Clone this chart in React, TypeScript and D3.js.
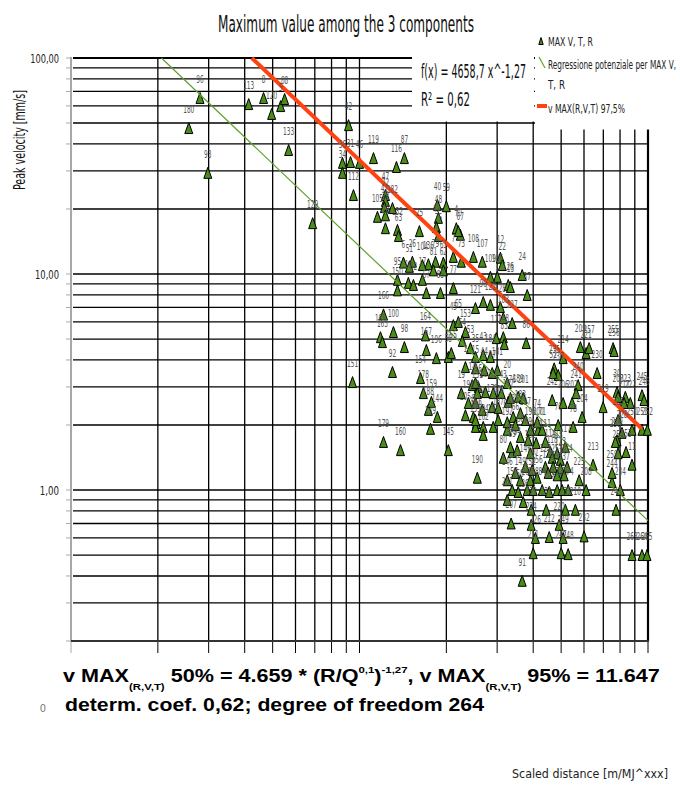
import React from 'react';
import * as d3 from 'd3';

// station id, scaled distance, peak velocity (max of V, T, R)
const pointIds = [
  '96', '180', '93', '113', '8', '120', '5', '88', '133', '129',
  '42', '36', '34', '31', '46', '112', '119', '116', '87', '47', '72', '41', '182', '38', '105', '132', '29', '63',
  '25', '40', '59', '48', '49', '4', '67', '70', '75', '108', '7', '73', '61', '79', '136', '104', '26', '6', '51',
  '81', '62', '95', '10', '82', '17', '57', '85', '77', '150',
  '107', '12', '22', '106', '109', '24', '126', '13', '37', '121', '90', '122', '128', '103', '227', '127', '148', '83', '86',
  '166', '165', '163', '100', '98', '92', '151', '164', '167', '196', '58', '155', '154', '178', '188', '159', '144', '139',
  '179', '160', '145', '19', '45', '65', '153', '64', '53', '1', '15', '14', '18', '9', '199', '16',
  '35', '43', '184', '181', '97', '44', '3', '131', '101', '32', '143', '20', '189', '191', '55', '170', '175', '177', '176',
  '183', '185', '187', '192', '193', '194', '195', '197', '198', '200', '201',
  '214', '235', '237', '52', '209', '221', '257', '255', '256', '230', '240', '241', '202', '219', '30', '203', '223', '222',
  '245', '246', '217', '242', '206', '250', '251', '252', '215', '228', '229',
  '190', '91', '211', '247', '248', '212', '249', '232', '220', '207', '224', '226', '231', '233', '210', '261', '236', '239',
  '243', '263', '264', '265', '208', '225', '213', '234', '244', '11', '253', '254', '258', '259', '162', '161', '204', '205',
  '60', '66', '68', '69', '71', '74', '76', '78', '80', '89', '94', '99', '102', '110', '111', '114', '115', '117', '118',
  '123', '124', '125', '130', '134', '135', '137', '138', '140', '141', '142', '146', '149', '152', '156', '157', '158',
  '260', '168', '169', '172', '173', '174', '84',
];

const distance = [
  28.0, 25.6, 29.8, 41.3, 46.5, 49.6, 53.3, 55.0, 56.8, 68.8,
  91.6, 87.3, 87.3, 93.1, 100, 95.3, 111.8, 134.3, 143.1, 123.0, 123.0, 122.0, 130.1, 123.0, 115.4, 135.4, 123.0, 136.5,
  161.3, 186.2, 200, 187.7, 184.7, 216.6, 223.6, 220.1, 187.7, 248.2, 211.5, 225.4, 195.3, 183.4, 173.3, 165.2, 152.5, 142.0, 148.9,
  180.4, 195.3, 135.4, 147.7, 153.8, 165.2, 170.5, 190.8, 211.5, 135.4,
  266.5, 307.9, 312.6, 300.4, 284.3, 366.4, 327.8, 333.5, 381.4, 252.3, 268.5, 284.3, 307.9, 315.1, 338.3, 297.9, 315.1, 317.6, 378.4,
  121.1, 118.2, 120.1, 131.1, 143.1, 130.1, 94.6, 169.3, 170.5, 184.7, 203.2, 208.1, 162.7, 166.5, 173.3, 177.5, 186.2, 176.2,
  121.1, 138.7, 203.2, 225.4, 211.5, 220.1, 232.9, 227.2, 242.4, 232.9, 252.3, 246.0, 252.3, 248.2, 254.1, 258.2,
  252.3, 268.5, 284.3, 300.4, 288.5, 270.7, 252.3, 256.1, 273.2, 290.8, 310.0, 325.2, 354.9, 238.4, 266.5, 288.5, 302.7, 327.8, 333.5,
  361.2, 341.0, 302.7, 325.2, 290.8, 268.5, 252.3, 375.9, 391.2, 416.4, 369.4,
  507.9, 473.0, 488.4, 469.2, 582.9, 610.2, 625.0, 756.8, 762.9, 666.3, 572.7, 563.6, 545.8, 698.8, 781.1, 787.4, 834.6, 868.6,
  953.3, 968.6, 826.0, 465.5, 507.9, 880.4, 953.3, 995, 787.4, 812.8, 781.1,
  256.1, 366.4, 400.0, 500.0, 528.8, 454.6, 507.9, 600.4, 492.0, 335.5, 393.7, 407.1, 443.8, 517.2, 560.1, 325.2, 369.4, 393.7,
  774.9, 880.4, 953.3, 992, 610.2, 577.2, 645.3, 802.0, 750.7, 880.4, 839.2, 787.4, 770.6, 750.7, 268.5, 252.3, 591.0, 232.9,
  325.2, 347.1, 361.2, 384.4, 429.7, 412.9, 488.4, 550.2, 315.1, 338.3, 352.1, 333.5, 391.2, 409.8, 440.9, 458.9, 484.4, 517.2, 465.5,
  496.9, 440.9, 469.2, 496.9, 524.6, 484.4, 512.1, 450.8, 396.8, 375.9, 347.1, 325.2, 361.2, 391.2, 412.9, 338.3, 354.9,
  381.4, 400.0, 454.6, 484.4, 504.2, 528.8, 429.7,
];

const velocity = [
  65.3, 47.4, 29.4, 61.2, 65.3, 55.1, 59.9, 64.6, 37.5, 17.2,
  48.9, 32.7, 29.4, 33.0, 32.7, 23.2, 34.4, 31.3, 34.4, 23.2, 21.8, 20.4, 20.2, 18.7, 18.4, 16.0, 16.3, 15.0,
  15.8, 20.9, 20.6, 18.2, 16.5, 16.3, 15.2, 15.8, 15.0, 12.0, 12.0, 11.4, 11.3, 11.4, 11.1, 11.0, 11.4, 11.3, 10.8,
  10.4, 10.4, 9.4, 9.1, 8.9, 9.4, 8.17, 8.17, 8.61, 8.4,
  11.4, 11.9, 11.0, 9.7, 9.7, 9.9, 8.9, 8.7, 8.0, 6.96, 7.42, 7.2, 7.03, 6.26, 5.93, 5.05, 5.10, 4.74, 4.79,
  6.5, 5.10, 4.84, 5.39, 4.59, 3.52, 3.16, 5.2, 4.45, 4.08, 4.13, 4.31, 3.30, 2.81, 2.35, 2.56, 2.18, 1.92,
  1.67, 1.53, 1.53, 2.81, 5.8, 6.0, 5.39, 4.90, 4.54, 3.71, 3.66, 3.06, 2.53, 2.18, 2.04, 3.0,
  4.13, 4.22, 4.13, 3.59, 3.48, 3.59, 3.13, 2.81, 2.84, 2.81, 2.81, 3.13, 2.70, 2.53, 2.35, 2.42, 2.40, 2.56, 2.67,
  2.27, 2.18, 2.11, 1.90, 1.96, 1.96, 1.96, 2.11, 1.90, 1.90, 2.67,
  4.08, 3.66, 3.41, 3.48, 4.59, 4.31, 4.54, 4.54, 4.40, 3.48, 3.06, 2.81, 2.53, 2.42, 2.84, 2.70, 2.70, 2.53,
  2.75, 2.61, 2.53, 2.61, 2.53, 1.90, 1.90, 1.90, 2.11, 1.84, 1.70,
  1.14, 0.38, 0.51, 0.51, 0.505, 0.606, 0.60, 0.61, 0.69, 0.70, 0.69, 0.60, 0.81, 0.81, 0.81, 0.90, 0.88, 0.81,
  0.81, 0.50, 0.50, 0.50, 1.00, 1.11, 1.31, 1.00, 1.09, 1.31, 1.50, 1.48, 1.67, 1.20, 1.80, 2.11, 2.18, 2.22,
  2.06, 2.00, 1.76, 1.70, 1.90, 2.06, 2.00, 1.96, 1.41, 1.50, 1.53, 1.58, 1.48, 1.65, 1.67, 1.50, 1.48, 1.58, 1.41,
  1.38, 1.28, 1.28, 1.26, 1.28, 1.17, 1.17, 1.20, 1.24, 1.28, 1.20, 1.11, 1.11, 1.11, 1.14, 1.00, 0.98,
  1.00, 1.00, 0.98, 1.00, 1.00, 1.00, 1.00,
];

const yTickValues = [1, 10, 100];
const yTickLabels = ['1,00', '10,00', '100,00'];

// power regression and 97,5% curve: v = a * x^b
const fitCoef = 4658.7;
const upperCoef = 11647;
const fitExp = -1.27;
const upperEnd = 950;

const narrow = '"Liberation Sans Narrow", "Arial Narrow", "DejaVu Sans Condensed", sans-serif';
const bold = '"Liberation Sans", Arial, sans-serif';

const markerPath = 'M0,-5.5L4,5.5L-4,5.5Z';
const markerFill = '#4a8d16';
const fitColor = '#5ea12c';
const upperColor = '#ff4212';

export default function App() {
  const width = 680;
  const height = 789;
  const left = 71, right = 648, top = 58, bottom = 641;

  const x = d3.scaleLog().domain([10, 1000]).range([left, right]);
  const y = d3.scaleLog().domain([0.2, 100]).range([bottom, top]);

  const xTicks = x.ticks();
  const yTicks = y.ticks();

  const power = (a: number) => (d: number) => a * Math.pow(d, fitExp);
  const fit = power(fitCoef);
  const upper = power(upperCoef);
  const fitStart = Math.pow(fitCoef / 100, -1 / fitExp);
  const upperStart = Math.pow(upperCoef / 100, -1 / fitExp);

  const line = d3.line<number[]>().x(d => x(d[0])).y(d => y(d[1]));
  const fitPath = line([[fitStart, fit(fitStart)], [1000, fit(1000)]]);
  const upperPath = line([[upperStart, upper(upperStart)], [upperEnd, upper(upperEnd)]]);

  const points = pointIds.map((id, i) => ({ id, d: distance[i], v: velocity[i] }));

  return (
    <svg width={width} height={height} style={{ position: 'absolute', left: 0, top: 0, background: '#fff' }}>
      <rect width={width} height={height} fill="#fff" />

      <text x={218} y={32} fontFamily={narrow} fontSize={23} fill="#111"
        textLength={256} lengthAdjust="spacingAndGlyphs">Maximum value among the 3 components</text>

      {/* horizontal grid */}
      {yTicks.filter(t => t > 0.2).map(t => (
        <line key={'h' + t} x1={left + 2} x2={right} y1={y(t)} y2={y(t)}
          stroke="#000" strokeWidth={t === 100 ? 2.2 : 1.3} />
      ))}
      {/* vertical grid */}
      {xTicks.filter(t => t > 10).map(t => (
        <line key={'v' + t} x1={x(t)} x2={x(t)} y1={top} y2={bottom}
          stroke="#000" strokeWidth={t === 1000 ? 2.2 : 1.3} />
      ))}

      {/* boxes behind the equation and the legend */}
      <rect x={412} y={45} width={122} height={76.5} fill="#fff" />
      <rect x={535} y={25} width={145} height={104.5} fill="#fff" />

      {/* y axis */}
      <line x1={left} x2={left} y1={top - 1} y2={bottom} stroke="#a8a8a8" strokeWidth={2} />
      {yTicks.map(t => (
        <line key={'yt' + t} x1={left - 5} x2={left} y1={y(t)} y2={y(t)} stroke="#a8a8a8" strokeWidth={1} />
      ))}
      {yTickValues.map((t, i) => (
        <text key={'yl' + t} x={59} y={y(t) + 5} textAnchor="end" fontFamily={narrow} fontSize={13} fill="#222"
          textLength={yTickLabels[i].length * 4.8} lengthAdjust="spacingAndGlyphs">{yTickLabels[i]}</text>
      ))}
      <text transform="translate(25,140) rotate(-90)" textAnchor="middle" fontFamily={narrow} fontSize={16}
        fill="#111" textLength={100} lengthAdjust="spacingAndGlyphs">Peak velocity [mm/s]</text>

      {/* x axis */}
      {xTicks.map(t => (
        <line key={'xt' + t} x1={x(t)} x2={x(t)} y1={bottom} y2={bottom + 12}
          stroke={t === 10 ? '#aaa' : '#000'} strokeWidth={1} />
      ))}
      <line x1={left} x2={right + 1} y1={bottom} y2={bottom} stroke="#333" strokeWidth={2} />

      {/* data */}
      {points.map((p, i) => (
        <path key={'p' + i} d={markerPath} transform={`translate(${x(p.d)},${y(p.v)})`}
          fill={markerFill} stroke="#000" strokeWidth={1} />
      ))}
      <path d={fitPath || ''} fill="none" stroke={fitColor} strokeWidth={1.2} />
      <path d={upperPath || ''} fill="none" stroke={upperColor} strokeWidth={4} />
      {points.map((p, i) => (
        <text key={'l' + i} x={x(p.d)} y={y(p.v) - 15} textAnchor="middle" fontFamily={narrow} fontSize={10}
          fill="#555" textLength={p.id.length * 3.7} lengthAdjust="spacingAndGlyphs">{p.id}</text>
      ))}

      {/* trendline equation */}
      <text x={421} y={78} fontFamily={narrow} fontSize={19} fill="#111"
        textLength={105} lengthAdjust="spacingAndGlyphs">f(x) = 4658,7 x^-1,27</text>
      <text x={421} y={106} fontFamily={narrow} fontSize={19} fill="#111"
        textLength={49} lengthAdjust="spacingAndGlyphs">R² = 0,62</text>

      {/* legend */}
      <path d="M0,-3.5L2.2,3.5L-2.2,3.5Z" transform="translate(541,41)" fill={markerFill} stroke="#000" strokeWidth={1} />
      <text x={548} y={46} fontFamily={narrow} fontSize={12.5} fill="#222"
        textLength={45} lengthAdjust="spacingAndGlyphs">MAX V, T, R</text>
      <line x1={539} y1={57} x2={545} y2={68} stroke={fitColor} strokeWidth={1.2} />
      <text x={548} y={69} fontFamily={narrow} fontSize={12.5} fill="#222"
        textLength={128} lengthAdjust="spacingAndGlyphs">Regressione potenziale per MAX V,</text>
      <text x={548} y={89} fontFamily={narrow} fontSize={12.5} fill="#222"
        textLength={17} lengthAdjust="spacingAndGlyphs">T, R</text>
      <line x1={537} y1={106} x2={547} y2={106} stroke={upperColor} strokeWidth={4} />
      <text x={548} y={113} fontFamily={narrow} fontSize={12.5} fill="#222"
        textLength={77} lengthAdjust="spacingAndGlyphs">v  MAX(R,V,T) 97,5%</text>

      {/* attenuation law caption */}
      <g transform="translate(63,682) scale(1.2,1)" fontFamily={bold} fontWeight="bold" fill="#000">
        <text x={0} y={0} fontSize={18}>
          v MAX
          <tspan fontSize={9.5} dy={8}>(R,V,T)</tspan>
          <tspan dy={-8}>{' 50% = 4.659 * (R/Q'}</tspan>
          <tspan fontSize={9.5} dy={-9}>0,1</tspan>
          <tspan dy={9}>)</tspan>
          <tspan fontSize={9.5} dy={-9}>-1,27</tspan>
          <tspan dy={9}>, v MAX</tspan>
          <tspan fontSize={9.5} dy={8}>(R,V,T)</tspan>
          <tspan dy={-8}>{' 95% = 11.647'}</tspan>
        </text>
      </g>
      <text x={65} y={711} fontFamily={bold} fontWeight="bold" fontSize={18} fill="#000"
        textLength={419} lengthAdjust="spacingAndGlyphs">determ. coef. 0,62; degree of freedom 264</text>
      <text x={43} y={712} textAnchor="middle" fontFamily={narrow} fontSize={11} fill="#777">0</text>

      <text x={668} y={778} textAnchor="end" fontFamily={narrow} fontSize={13} fill="#222"
        textLength={156} lengthAdjust="spacingAndGlyphs">Scaled distance [m/MJ^xxx]</text>
    </svg>
  );
}
